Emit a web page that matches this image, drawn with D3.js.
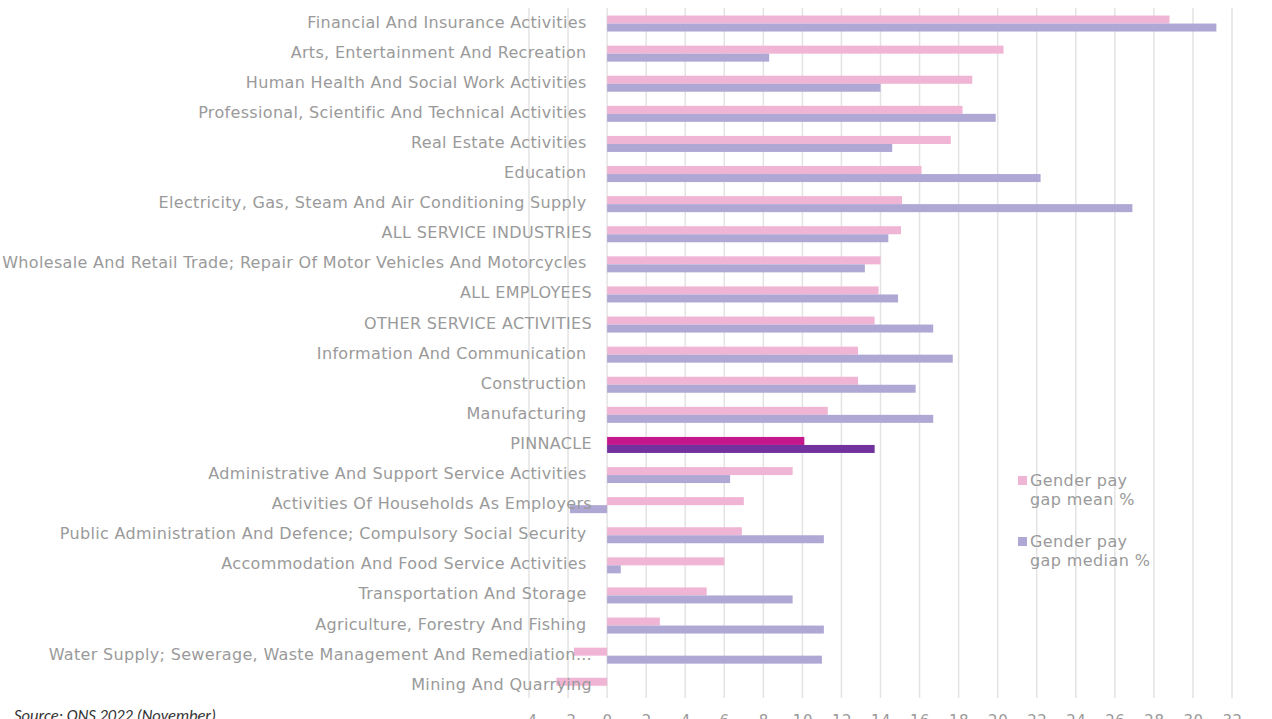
<!DOCTYPE html>
<html>
<head>
<meta charset="utf-8">
<script src="https://cdn.jsdelivr.net/npm/d3@7"></script>
<style>
  body { margin: 0; background: #fff; }
  svg text { white-space: pre; }
</style>
</head>
<body>
<div id="chart"></div>
<script>
// categories top to bottom
const categories = [
  'Financial And Insurance Activities ',
  'Arts, Entertainment And Recreation ',
  'Human Health And Social Work Activities ',
  'Professional, Scientific And Technical Activities ',
  'Real Estate Activities ',
  'Education ',
  'Electricity, Gas, Steam And Air Conditioning Supply ',
  'ALL SERVICE INDUSTRIES',
  'Wholesale And Retail Trade; Repair Of Motor Vehicles And Motorcycles ',
  'ALL EMPLOYEES',
  'OTHER SERVICE ACTIVITIES',
  'Information And Communication ',
  'Construction ',
  'Manufacturing ',
  'PINNACLE',
  'Administrative And Support Service Activities ',
  'Activities Of Households As Employers',
  'Public Administration And Defence; Compulsory Social Security ',
  'Accommodation And Food Service Activities ',
  'Transportation And Storage ',
  'Agriculture, Forestry And Fishing ',
  'Water Supply; Sewerage, Waste Management And Remediation…',
  'Mining And Quarrying'
]
const meanGap = [28.8, 20.3, 18.7, 18.2, 17.6, 16.1, 15.1, 15.05, 14.0, 13.9, 13.7, 12.85, 12.85, 11.3, 10.1, 9.5, 7.0, 6.9, 6.0, 5.1, 2.7, -1.7, -2.6]
const medianGap = [31.2, 8.3, 14.0, 19.9, 14.6, 22.2, 26.9, 14.4, 13.2, 14.9, 16.7, 17.7, 15.8, 16.7, 13.7, 6.3, -1.9, 11.1, 0.7, 9.5, 11.1, 11.0, 0]
const xTicks = d3.range(-4, 33, 2)
const seriesNames = ['Gender pay gap mean %', 'Gender pay gap median %']

const W = 1272, H = 719
const grey = '#9a9a9a'

const svg = d3.select('#chart').append('svg')
  .attr('width', W)
  .attr('height', H)
  .style('font-family', '"DejaVu Sans", sans-serif')

const x = d3.scaleLinear().domain([-4, 32]).range([529, 1232])
const y = d3.scaleBand().domain(categories).range([8.5, 700.8])
const sub = d3.scaleBand().domain(['mean', 'median']).range([0, 16])

// grid
svg.append('g')
  .selectAll('line')
  .data(xTicks)
  .enter().append('line')
  .attr('x1', d => x(d)).attr('x2', d => x(d))
  .attr('y1', 8).attr('y2', 698)
  .style('stroke', '#e3e3e3')
  .style('stroke-width', 1.5)

// bottom tick labels
const axis = svg.append('g')
  .attr('transform', 'translate(0,712)')
  .call(d3.axisBottom(x).tickValues(xTicks).tickSize(0).tickPadding(0).tickFormat(d => d))
axis.select('.domain').remove()
axis.selectAll('text')
  .attr('dy', '0.9em')
  .style('font-family', '"DejaVu Sans", sans-serif')
  .style('font-size', '15px')
  .style('letter-spacing', '0.5px')
  .style('fill', grey)

const rows = categories.map((c, i) => ({ c, mean: meanGap[i], median: medianGap[i] }))

const row = svg.append('g').selectAll('g')
  .data(rows)
  .enter().append('g')
  .attr('transform', d => `translate(0,${y(d.c) + y.bandwidth() / 2 - 8})`)

const colour = (d, k) => d.c === 'PINNACLE'
  ? (k === 'mean' ? '#c5178c' : '#7132a0')
  : (k === 'mean' ? '#f0b4d4' : '#b0a8d4')

;['mean', 'median'].forEach(k => {
  row.append('rect')
    .attr('x', d => x(Math.min(0, d[k])))
    .attr('y', sub(k))
    .attr('width', d => Math.abs(x(d[k]) - x(0)))
    .attr('height', sub.bandwidth())
    .style('fill', d => colour(d, k))
})

// category labels
svg.append('g').selectAll('text')
  .data(categories)
  .enter().append('text')
  .attr('x', 592)
  .attr('y', d => y(d) + y.bandwidth() / 2 - 0.5)
  .attr('dominant-baseline', 'middle')
  .attr('text-anchor', 'end')
  .style('font-size', '16px')
  .style('letter-spacing', '0.33px')
  .style('fill', grey)
  .text(d => d)

// legend
const legend = svg.append('g')
  .selectAll('g')
  .data(seriesNames)
  .enter().append('g')
  .attr('transform', (d, i) => `translate(1018,${476 + i * 61})`)
legend.append('rect')
  .attr('width', 9).attr('height', 9)
  .style('fill', (d, i) => i ? '#b0a8d4' : '#f0b4d4')
legend.append('text')
  .attr('x', 12)
  .attr('y', 4.5)
  .attr('dominant-baseline', 'middle')
  .style('font-size', '16px')
  .style('letter-spacing', '0.4px')
  .style('fill', grey)
  .selectAll('tspan')
  .data(d => [d.split(' ').slice(0, 2).join(' '), d.split(' ').slice(2).join(' ')])
  .enter().append('tspan')
  .attr('x', 12)
  .attr('dy', (d, i) => i ? 19.5 : 0)
  .text(d => d)

// source note
svg.append('text')
  .attr('x', 14)
  .attr('y', 721)
  .style('font-family', 'Carlito, "Liberation Sans", sans-serif')
  .style('font-style', 'italic')
  .style('font-size', '16.5px')
  .style('fill', '#333')
  .text('Source: ONS 2022 (November)')
</script>
</body>
</html>
